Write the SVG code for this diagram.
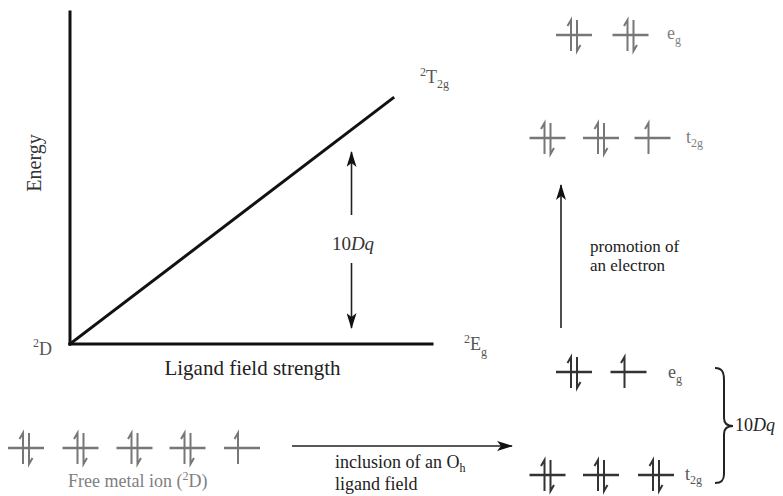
<svg xmlns="http://www.w3.org/2000/svg" xmlns:xlink="http://www.w3.org/1999/xlink" width="783" height="496" viewBox="0 0 783 496" font-family="'Liberation Serif','Times New Roman',serif">
<style>
text{font-family:"Liberation Serif","Times New Roman",serif;}
.axis{stroke:#111;stroke-width:3;fill:none;stroke-linecap:square;}
.arr{stroke:#222;stroke-width:1.6;fill:none;}
.lt{stroke:#777;}
.dk{stroke:#333;}
.lbl{fill:#555;}
.glbl{fill:#808080;}
</style>
<defs>
<marker id="ah" markerUnits="userSpaceOnUse" viewBox="0 0 16 10" markerWidth="16" markerHeight="10" refX="15" refY="5" orient="auto">
<path d="M0,0 L16,5 L0,10 L4,5 z" fill="#111"/>
</marker>
<g id="pair" fill="none"><line x1="-18" y1="0" x2="18" y2="0" stroke-width="2.5"/><path d="M-3,16 V-15 L-6.5,-9" stroke-width="2" fill="none"/><path d="M3,-15 V16 L6.5,10" stroke-width="2" fill="none"/></g>
<g id="single" fill="none"><line x1="-18" y1="0" x2="18" y2="0" stroke-width="2.5"/><path d="M-4,16 V-15 L-7.5,-9" stroke-width="2" fill="none"/></g>
</defs>

<g id="plot">
<line class="axis" x1="70" y1="12" x2="70" y2="344"/>
<line class="axis" x1="70" y1="344" x2="432" y2="344"/>
<line class="axis" x1="70" y1="344" x2="393" y2="98" stroke-linecap="butt"/>
<text transform="translate(41,163) rotate(-90)" text-anchor="middle" font-size="20" fill="#333">Energy</text>
<text x="252.5" y="375" text-anchor="middle" font-size="21" fill="#222">Ligand field strength</text>
<text class="lbl" x="420" y="83" font-size="18"><tspan font-size="12" dy="-7">2</tspan><tspan dy="7">T</tspan><tspan font-size="12" dy="5">2g</tspan></text>
<text class="lbl" x="33" y="355" font-size="18"><tspan font-size="12" dy="-8">2</tspan><tspan dy="8">D</tspan></text>
<text class="lbl" x="464" y="350" font-size="18"><tspan font-size="12" dy="-7">2</tspan><tspan dy="7">E</tspan><tspan font-size="12" dy="6">g</tspan></text>
<text x="353" y="250" text-anchor="middle" font-size="19" fill="#333">10<tspan font-style="italic">Dq</tspan></text>
</g>

<g id="free-ion" class="lt">
<use xlink:href="#pair" x="26" y="448"/>
<use xlink:href="#pair" x="80.5" y="448"/>
<use xlink:href="#pair" x="134.5" y="448"/>
<use xlink:href="#pair" x="187.5" y="448"/>
<use xlink:href="#single" x="242" y="448"/>
<text class="glbl" x="68" y="487" font-size="18" stroke="none">Free metal ion (<tspan font-size="12" dy="-7">2</tspan><tspan dy="7">D)</tspan></text>
</g>

<g id="oh-eg" class="dk">
<use xlink:href="#pair" x="574" y="372"/>
<use xlink:href="#single" x="628.5" y="372"/>
<text class="lbl" x="668" y="378" font-size="18" stroke="none">e<tspan font-size="12" dy="5">g</tspan></text>
</g>

<g id="oh-t2g" class="dk">
<use xlink:href="#pair" x="547.5" y="475"/>
<use xlink:href="#pair" x="601" y="475"/>
<use xlink:href="#pair" x="656" y="475"/>
<text class="lbl" x="685" y="480" font-size="18" stroke="none">t<tspan font-size="12" dy="4">2g</tspan></text>
</g>

<g id="excited-t2g" class="lt">
<use xlink:href="#pair" x="547.5" y="138"/>
<use xlink:href="#pair" x="601" y="138"/>
<use xlink:href="#single" x="652.5" y="138"/>
<text class="glbl" x="686" y="143" font-size="18" stroke="none">t<tspan font-size="12" dy="4">2g</tspan></text>
</g>

<g id="excited-eg" class="lt">
<use xlink:href="#pair" x="574" y="35"/>
<use xlink:href="#pair" x="630.5" y="35"/>
<text class="glbl" x="667" y="39" font-size="18" stroke="none">e<tspan font-size="12" dy="5">g</tspan></text>
</g>

<g id="connectors">
<line class="arr" x1="351.5" y1="215" x2="351.5" y2="152" marker-end="url(#ah)"/>
<line class="arr" x1="351.5" y1="263" x2="351.5" y2="328" marker-end="url(#ah)"/>
<line class="arr" x1="292" y1="446" x2="512" y2="446" stroke-width="2" marker-end="url(#ah)"/>
<line class="arr" x1="561" y1="328" x2="561" y2="185" marker-end="url(#ah)"/>
<path d="M715,368 C722,368 724,372 724,380 L724,418 C724,423 727,426 733,426 C727,426 724,429 724,434 L724,474 C724,480 722,483 715,483" fill="none" stroke="#222" stroke-width="2"/>
</g>

<g id="labels">
<text x="335" y="468" font-size="18" fill="#222">inclusion of an O<tspan font-size="12" dy="4">h</tspan></text>
<text x="335" y="490" font-size="18" fill="#222">ligand field</text>
<text x="590" y="252" font-size="17" fill="#222">promotion of</text>
<text x="590" y="271" font-size="17" fill="#222">an electron</text>
<text x="735" y="431" font-size="18" fill="#222">10<tspan font-style="italic">Dq</tspan></text>
</g>
</svg>
